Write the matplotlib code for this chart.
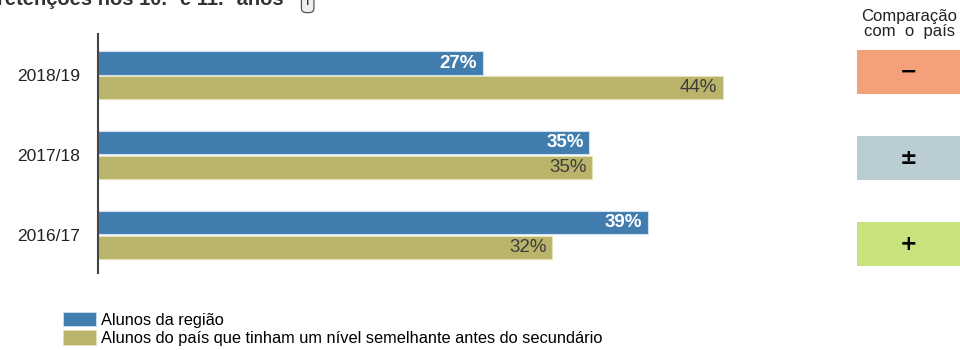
import matplotlib.pyplot as plt
from matplotlib.patches import Patch

plt.rcParams['font.family'] = ['Liberation Sans', 'DejaVu Sans']

# dados
anos = ['2018/19', '2017/18', '2016/17']
regiao = [27.1, 34.6, 38.7]
pais = [44.0, 34.8, 32.0]
simbolos = ['\u2212', '\u00b1', '+']
cores_comp = ['#F4A07A', '#B9CDD3', '#C8E37E']
legenda = ['Alunos da região',
           'Alunos do país que tinham um nível semelhante antes do secundário']

azul = '#427DB0'
ouro = '#BAB46A'

W, H = 960, 350
fig = plt.figure(figsize=(W / 100, H / 100), dpi=100)


def fx(px):
    return px / W


def fy(py):
    return 1 - py / H


# grafico principal
ax = fig.add_axes([fx(98), fy(273), fx(98 + 14.2 * 50) - fx(98), fy(34) - fy(273)])
pos = list(range(len(anos)))
h = 0.29
ax.barh([p - 0.155 for p in pos], regiao, height=h, color=azul,
        edgecolor='#CFE0EE', linewidth=0.8)
ax.barh([p + 0.155 for p in pos], pais, height=h, color=ouro,
        edgecolor='#E4E0B8', linewidth=0.8)
ax.set_xlim(0, 50)
ax.set_ylim(2.475, -0.519)

for p, v in zip(pos, regiao):
    ax.annotate('%d%%' % round(v), (v, p - 0.155), xytext=(-4, 0),
                textcoords='offset points', ha='right', va='center',
                color='white', fontsize=13.5, fontweight='bold')
for p, v in zip(pos, pais):
    ax.annotate('%d%%' % round(v), (v, p + 0.155), xytext=(-4, 0),
                textcoords='offset points', ha='right', va='center',
                color='#3c3c3c', fontsize=13.5)

ax.set_yticks(pos)
ax.set_yticklabels(anos, fontsize=12.5, color='#222222')
ax.tick_params(axis='y', length=0, pad=13)
ax.set_xticks([])
for s in ['top', 'right', 'bottom']:
    ax.spines[s].set_visible(False)
ax.spines['left'].set_color('#444444')
ax.spines['left'].set_linewidth(1.5)

# coluna de comparacao
axc = fig.add_axes([fx(857), fy(273), fx(960) - fx(857), fy(34) - fy(273)])
axc.barh(pos, [1] * len(pos), height=0.512, color=cores_comp)
axc.set_xlim(0, 1)
axc.set_ylim(2.337, -0.442)
for p, s in zip(pos, simbolos):
    axc.text(0.5, p, s, ha='center', va='center', fontsize=15,
             fontweight='bold', color='black', family=['DejaVu Sans'])
axc.axis('off')

fig.text(fx(909), fy(9), 'Comparação\ncom  o  país', ha='center', va='top',
         fontsize=12, color='#222222', linespacing=1.0)

# titulo cortado no topo
fig.text(fx(-3), fy(5), 'retenções nos 10.º e 11.º anos', ha='left',
         va='baseline', fontsize=14.5, fontweight='bold', color='#333333')
fig.text(fx(306), fy(5), 'i', ha='left', va='baseline', fontsize=11,
         color='#333333',
         bbox=dict(boxstyle='round,pad=0.3', fc='#EEEEEE', ec='#555555', lw=0.9))

# legenda
handles = [Patch(facecolor=azul, edgecolor='#CFE0EE', linewidth=0.6),
           Patch(facecolor=ouro, edgecolor='#E4E0B8', linewidth=0.6)]
fig.legend(handles, legenda, loc='upper left', bbox_to_anchor=(fx(63), fy(312)),
           frameon=False, fontsize=11.8, handlelength=2.0, handleheight=0.98,
           labelspacing=0.15, handletextpad=0.3, borderpad=0, borderaxespad=0)

fig.savefig('out.png', dpi=100)
